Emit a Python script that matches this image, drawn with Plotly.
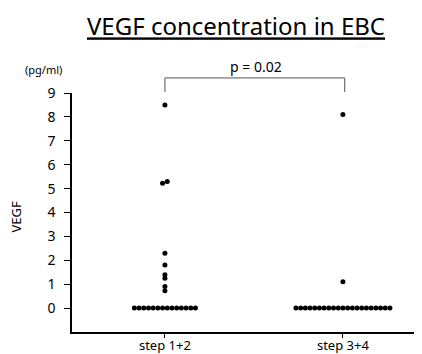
import plotly.graph_objects as go

# ---- data ----
categories = ["step 1+2", "step 3+4"]
step12_values = [8.5, 5.3, 5.22, 2.3, 1.8, 1.4, 1.25, 0.9, 0.73] + [0.0] * 14
step34_values = [8.1, 1.1] + [0.0] * 21
y_ticks = [0, 1, 2, 3, 4, 5, 6, 7, 8, 9]
p_text = "p = 0.02"

# ---- layout constants (page body adds an 8px offset) ----
W, H = 414, 346
ML, MR, MT, MB = 64, 2, 85, 22
XRANGE = [-0.522, 1.433]
YRANGE = [-1, 9]
DOT_STEP = 0.0264  # horizontal spacing of dots in x units
FONT = "Noto Sans"


def swarm(values, center):
    """Simple dot-plot layout: tied values spread side by side,
    near-coincident values nudged apart."""
    xs, ys = [], []
    groups = {}
    for v in values:
        groups.setdefault(v, []).append(v)
    keys = sorted(groups.keys(), reverse=True)
    prev = None
    for k in keys:
        n = len(groups[k])
        if n > 1:
            for i in range(n):
                xs.append(center + (i - (n - 1) / 2) * DOT_STEP)
                ys.append(k)
        else:
            if prev is not None and abs(prev - k) < 0.1:
                xs[-1] = center + DOT_STEP / 2
                xs.append(center - DOT_STEP / 2)
            else:
                xs.append(center)
            ys.append(k)
        prev = k
    return xs, ys


fig = go.Figure()
for i, vals in enumerate([step12_values, step34_values]):
    xs, ys = swarm(vals, i)
    fig.add_trace(go.Scatter(
        x=xs, y=ys, mode="markers",
        marker=dict(size=5, color="black", line=dict(width=0)),
        cliponaxis=False, showlegend=False, hoverinfo="skip"))

# conversions to domain / paper fractions (derived from ranges)
def xdom(v):
    return (v - XRANGE[0]) / (XRANGE[1] - XRANGE[0])

def ypap(v):
    return (v - YRANGE[0]) / (YRANGE[1] - YRANGE[0])

bracket_top = 9.63
bracket_leg = 9.04
bracket_style = dict(color="#555", width=1)
fig.add_shape(type="line", xref="x domain", yref="paper",
              x0=xdom(0), x1=xdom(1.01), y0=ypap(bracket_top), y1=ypap(bracket_top),
              line=bracket_style)
for xv in [0, 1.01]:
    fig.add_shape(type="line", xref="x domain", yref="paper",
                  x0=xdom(xv), x1=xdom(xv), y0=ypap(bracket_top), y1=ypap(bracket_leg),
                  line=bracket_style)

fig.add_annotation(xref="x domain", yref="paper", x=xdom(0.51), y=ypap(10.1),
                   text=p_text, showarrow=False, xanchor="center", yanchor="middle",
                   font=dict(family=FONT, size=14, color="black"))
fig.add_annotation(xref="paper", yref="paper", x=-0.0805, y=ypap(10.0),
                   text="(pg/ml)", showarrow=False, xanchor="center", yanchor="middle",
                   font=dict(family=FONT, size=11, color="black"))
fig.add_annotation(xref="paper", yref="paper", x=-0.16, y=ypap(3.8),
                   text="VEGF", textangle=-90, showarrow=False,
                   xanchor="center", yanchor="middle",
                   font=dict(family=FONT, size=13, color="black"))

fig.update_layout(
    width=W, height=H,
    margin=dict(l=ML, r=MR, t=MT, b=MB, autoexpand=False),
    paper_bgcolor="white", plot_bgcolor="white",
    title=dict(text="VEGF concentration in EBC", x=(236 - 8) / W, xref="container",
               xanchor="center", y=1 - (27 - 8) / H, yanchor="middle",
               font=dict(family=FONT, size=24, color="black", lineposition="under")),
    xaxis=dict(range=XRANGE, tickvals=[0, 1], ticktext=categories,
               showline=True, linecolor="black", linewidth=1.5,
               ticks="outside", ticklen=4, tickcolor="black", tickwidth=1,
               ticklabelstandoff=-3,
               showgrid=False, zeroline=False, automargin=False,
               tickfont=dict(family=FONT, size=13, color="black")),
    yaxis=dict(range=YRANGE, tickvals=y_ticks,
               showline=True, linecolor="black", linewidth=1.5,
               ticks="outside", ticklen=6, tickcolor="black", tickwidth=1,
               ticklabelstandoff=6,
               showgrid=False, zeroline=False, automargin=False,
               tickfont=dict(family=FONT, size=14, color="black")),
)

fig.write_html("out.html")
